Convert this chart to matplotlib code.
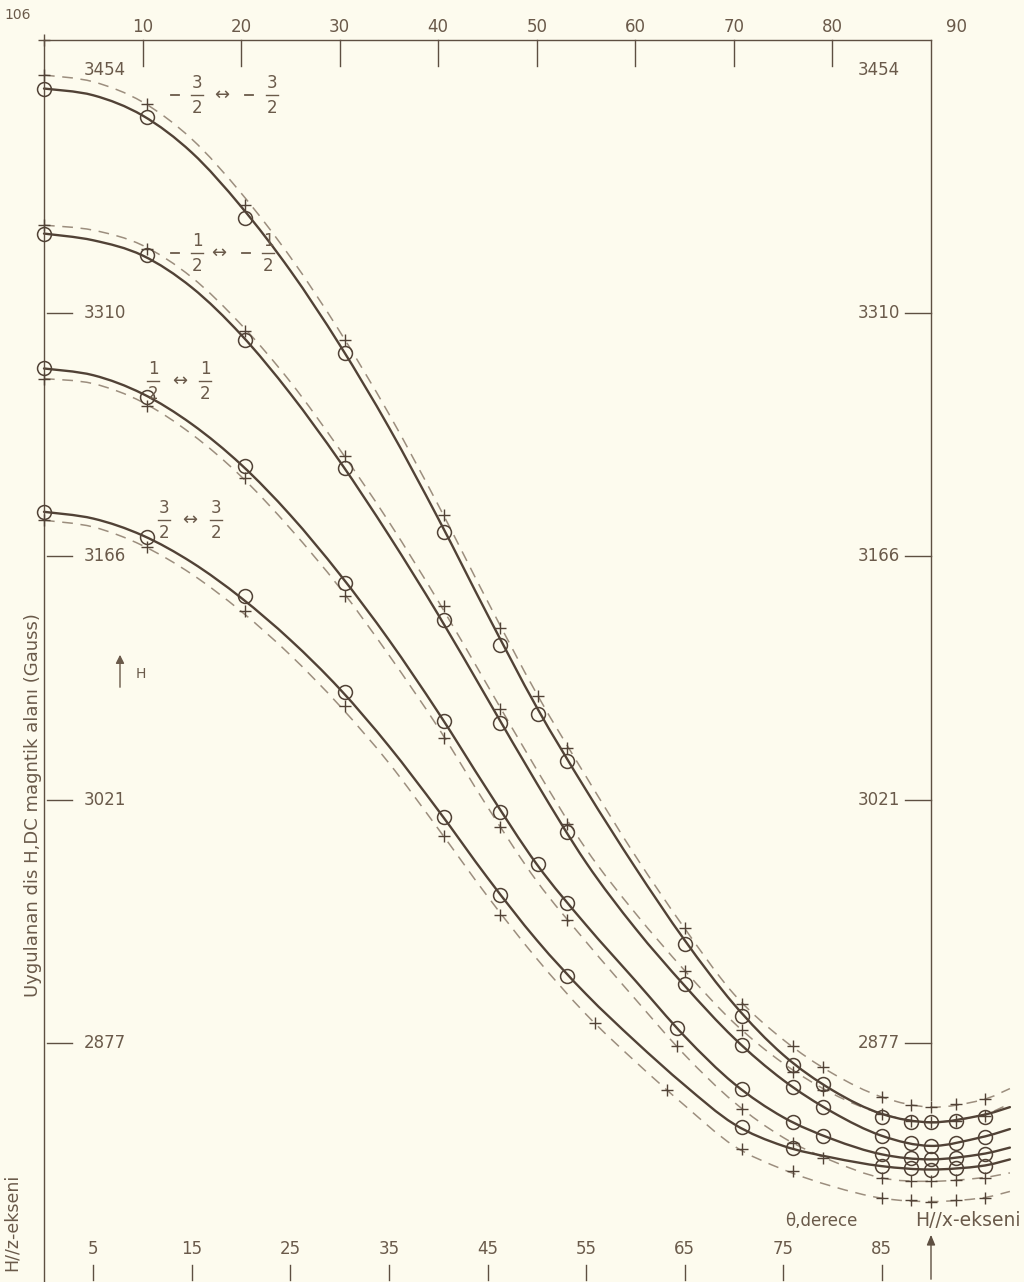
import matplotlib
matplotlib.use("Agg")
import matplotlib.pyplot as plt
from matplotlib.lines import Line2D
from matplotlib.path import Path
from matplotlib.patches import PathPatch, FancyArrowPatch

# ---------------- data ----------------
THETA = [0, 5, 10, 15, 20, 25, 30, 35, 40, 45, 50, 55, 60, 65, 70, 75, 80, 85, 90, 95, 98]

# fitted (solid) curves, Gauss
FIT_M32 = [3443, 3439, 3427, 3405, 3373, 3335, 3291, 3242, 3188, 3131, 3076, 3027, 2981, 2938, 2900, 2870, 2849, 2835, 2830, 2834, 2839]
FIT_M12 = [3357, 3353, 3344, 3325, 3297, 3262, 3222, 3178, 3131, 3081, 3031, 2984, 2945, 2911, 2880, 2855, 2836, 2822, 2816, 2821, 2826]
FIT_P12 = [3277, 3273, 3262, 3244, 3220, 3190, 3155, 3116, 3073, 3027, 2983, 2947, 2914, 2881, 2853, 2833, 2820, 2811, 2808, 2811, 2815]
FIT_P32 = [3192, 3188, 3178, 3162, 3141, 3116, 3087, 3053, 3015, 2975, 2938, 2906, 2878, 2852, 2829, 2816, 2809, 2804, 2802, 2804, 2808]

# dashed curves, Gauss
DASH_M32 = [3451, 3447, 3435, 3413, 3381, 3343, 3299, 3250, 3196, 3139, 3084, 3035, 2988, 2945, 2906, 2879, 2859, 2845, 2839, 2843, 2850]
DASH_M12 = [3362, 3359, 3350, 3331, 3303, 3269, 3229, 3186, 3139, 3089, 3039, 2992, 2954, 2920, 2889, 2865, 2847, 2835, 2830, 2834, 2841]
DASH_P12 = [3271, 3268, 3257, 3238, 3213, 3182, 3147, 3107, 3064, 3017, 2973, 2937, 2903, 2870, 2842, 2821, 2807, 2797, 2795, 2797, 2800]
DASH_P32 = [3187, 3183, 3172, 3155, 3133, 3107, 3077, 3043, 3004, 2964, 2927, 2894, 2866, 2840, 2816, 2802, 2792, 2785, 2783, 2785, 2789]

# circle-marked measurements (solid curves)
CIR_M32_T = [0, 10.5, 20.4, 30.5, 40.6, 46.3, 50.1, 53.1, 65, 70.8, 76, 79, 85, 88, 90, 92.5, 95.5]
CIR_M32_G = [3443, 3426, 3366, 3286, 3180, 3113, 3072, 3044, 2936, 2893, 2864, 2853, 2833, 2830, 2830, 2831, 2833]
CIR_M12_T = [0, 10.5, 20.4, 30.5, 40.6, 46.3, 53.1, 65, 70.8, 76, 79, 85, 88, 90, 92.5, 95.5]
CIR_M12_G = [3357, 3344, 3294, 3218, 3128, 3067, 3002, 2912, 2876, 2851, 2839, 2822, 2818, 2816, 2818, 2821]
CIR_P12_T = [0, 10.5, 20.4, 30.5, 40.6, 46.3, 50.1, 53.1, 64.2, 70.8, 76, 79, 85, 88, 90, 92.5, 95.5]
CIR_P12_G = [3277, 3260, 3219, 3150, 3068, 3014, 2983, 2960, 2886, 2850, 2830, 2822, 2811, 2809, 2808, 2809, 2811]
CIR_P32_T = [0, 10.5, 20.4, 30.5, 40.6, 46.3, 53.1, 70.8, 76, 85, 88, 90, 92.5, 95.5]
CIR_P32_G = [3192, 3177, 3142, 3085, 3011, 2965, 2917, 2827, 2815, 2804, 2803, 2802, 2803, 2804]

# cross-marked measurements (dashed curves)
CRS_M32_T = [0, 10.5, 20.4, 30.5, 40.6, 46.3, 50.1, 53.1, 65, 70.8, 76, 79, 85, 88, 90, 92.5, 95.5]
CRS_M32_G = [3451, 3434, 3374, 3294, 3190, 3123, 3083, 3052, 2945, 2900, 2875, 2863, 2845, 2840, 2839, 2841, 2844]
CRS_M12_T = [0, 10.5, 20.4, 30.5, 40.6, 46.3, 53.1, 65, 70.8, 76, 79, 85, 88, 90, 92.5, 95.5]
CRS_M12_G = [3362, 3348, 3299, 3225, 3136, 3075, 3007, 2920, 2885, 2860, 2849, 2835, 2831, 2830, 2831, 2834]
CRS_P12_T = [0, 10.5, 20.4, 30.5, 40.6, 46.3, 53.1, 64.2, 70.8, 76, 79, 85, 88, 90, 92.5, 95.5]
CRS_P12_G = [3271, 3255, 3212, 3142, 3058, 3005, 2950, 2875, 2838, 2818, 2809, 2797, 2795, 2795, 2796, 2797]
CRS_P32_T = [0, 10.5, 20.4, 30.5, 40.6, 46.3, 55.9, 63.2, 70.8, 76, 85, 88, 90, 92.5, 95.5]
CRS_P32_G = [3187, 3171, 3133, 3077, 3000, 2953, 2889, 2849, 2814, 2801, 2785, 2784, 2783, 2784, 2785]

X_TOP = [10, 20, 30, 40, 50, 60, 70, 80, 90]
X_BOTTOM = [5, 15, 25, 35, 45, 55, 65, 75, 85]
Y_TICKS = [3454, 3310, 3166, 3021, 2877]

YLABEL = "Uygulanan dis H,DC magntik alanı (Gauss)"

# ---------------- style ----------------
W, H = 1024, 1282
BG = "#fdfbee"
INK = "#514236"
DASHC = "#9c8e7e"
FRAME = "#5e4f41"
TXT = "#6a5a4a"
plt.rcParams["font.family"] = ["DejaVu Sans"]

fig = plt.figure(figsize=(W / 100, H / 100), dpi=100, facecolor=BG)
ax = fig.add_axes([0, 0, 1, 1])
ax.set_facecolor(BG)
ax.set_xlim(-4.464, 99.43)
ax.set_ylim(2735.3, 3495.5)
ax.axis("off")

def fx(x):
    return x / W

def fy(y):
    return 1 - y / H

XT = ax.get_xaxis_transform()   # x data, y axes fraction
YT = ax.get_yaxis_transform()   # x axes fraction, y data

# frame
ax.plot([0, 90], [fy(40), fy(40)], transform=XT, color=FRAME, lw=1.0)
ax.plot([0, 0], [fy(40), fy(1282)], transform=XT, color=FRAME, lw=1.0)
ax.plot([90, 90], [fy(40), fy(1100)], transform=XT, color=FRAME, lw=1.0)
ax.plot([0], [fy(40)], transform=XT, marker="+", color=FRAME, ms=9, mew=1.0)

# top ticks and labels
for t in X_TOP:
    if t < 90:
        ax.plot([t, t], [fy(40), fy(66)], transform=XT, color=FRAME, lw=1.0)
    dx = 2.6 if t == 90 else 0
    ax.text(t + dx, fy(27), str(t), transform=XT, ha="center", va="center",
            fontsize=12, color=TXT)

# bottom ticks and labels
for t in X_BOTTOM:
    ax.plot([t, t], [fy(1265), fy(1280)], transform=XT, color=FRAME, lw=1.0)
    ax.text(t, fy(1249), str(t), transform=XT, ha="center", va="center",
            fontsize=12, color=TXT)

# y ticks (left and right)
for v in Y_TICKS:
    if v != Y_TICKS[0]:
        ax.plot([fx(47), fx(72)], [v, v], transform=YT, color=FRAME, lw=1.0)
        ax.plot([fx(905), fx(931)], [v, v], transform=YT, color=FRAME, lw=1.0)
    ax.text(fx(84), v, str(v), transform=YT, ha="left", va="center",
            fontsize=12, color=TXT)
    ax.text(fx(900), v, str(v), transform=YT, ha="right", va="center",
            fontsize=12, color=TXT)

# smooth curve through the read points (Catmull-Rom as cubic Bezier)
def smooth_path(xs, ys):
    pts = list(zip(xs, ys))
    verts = [pts[0]]
    codes = [Path.MOVETO]
    n = len(pts)
    for i in range(n - 1):
        p0 = pts[i - 1] if i > 0 else pts[i]
        p1 = pts[i]
        p2 = pts[i + 1]
        p3 = pts[i + 2] if i + 2 < n else pts[i + 1]
        c1 = (p1[0] + (p2[0] - p0[0]) / 6.0, p1[1] + (p2[1] - p0[1]) / 6.0)
        c2 = (p2[0] - (p3[0] - p1[0]) / 6.0, p2[1] - (p3[1] - p1[1]) / 6.0)
        verts += [c1, c2, p2]
        codes += [Path.CURVE4] * 3
    return Path(verts, codes)

fits = [FIT_M32, FIT_M12, FIT_P12, FIT_P32]
dashes = [DASH_M32, DASH_M12, DASH_P12, DASH_P32]
circles = [(CIR_M32_T, CIR_M32_G), (CIR_M12_T, CIR_M12_G), (CIR_P12_T, CIR_P12_G), (CIR_P32_T, CIR_P32_G)]
crosses = [(CRS_M32_T, CRS_M32_G), (CRS_M12_T, CRS_M12_G), (CRS_P12_T, CRS_P12_G), (CRS_P32_T, CRS_P32_G)]

for d in dashes:
    ax.add_patch(PathPatch(smooth_path(THETA, d), fill=False, edgecolor=DASHC,
                           lw=1.1, linestyle=(0, (7, 5))))
for f in fits:
    ax.add_patch(PathPatch(smooth_path(THETA, f), fill=False, edgecolor=INK,
                           lw=1.7, capstyle="round"))
for t, g in circles:
    ax.plot(t, g, "o", mfc="none", mec=INK, ms=10, mew=1.1, ls="none")
for t, g in crosses:
    ax.plot(t, g, "+", color=INK, ms=9, mew=1.0, ls="none")

# transition labels (fractions)
def frac(xc, yc, num, den):
    fig.text(fx(xc), fy(yc - 12), num, ha="center", va="center", fontsize=12, color=TXT)
    fig.add_artist(Line2D([fx(xc - 6), fx(xc + 6)], [fy(yc), fy(yc)], color=TXT, lw=1.0))
    fig.text(fx(xc), fy(yc + 13), den, ha="center", va="center", fontsize=12, color=TXT)

def minus(xc, yc):
    fig.add_artist(Line2D([fx(xc - 4), fx(xc + 4)], [fy(yc), fy(yc)], color=TXT, lw=1.3))

def arrow(xc, yc):
    fig.text(fx(xc), fy(yc), "↔", ha="center", va="center", fontsize=13,
             color=TXT, family=["DejaVu Sans"])

minus(175, 95); frac(197, 95, "3", "2"); arrow(222, 95); minus(249, 95); frac(272, 95, "3", "2")
minus(175, 253); frac(197, 253, "1", "2"); arrow(219, 253); minus(246, 253); frac(268, 253, "1", "2")
frac(153, 381, "1", "2"); arrow(180, 381); frac(205, 381, "1", "2")
frac(164, 520, "3", "2"); arrow(190, 520); frac(216, 520, "3", "2")

# H arrow
fig.add_artist(FancyArrowPatch((fx(120), fy(690)), (fx(120), fy(652)),
               arrowstyle="-|>,head_length=5,head_width=2.5", color=TXT, lw=1.0,
               transform=fig.transFigure))
fig.text(fx(141), fy(674), "H", ha="center", va="center", fontsize=10, color=TXT)

# x-axis arrow at 90
fig.add_artist(FancyArrowPatch((fx(931), fy(1282)), (fx(931), fy(1232)),
               arrowstyle="-|>,head_length=6,head_width=2.5", color=FRAME, lw=1.0,
               transform=fig.transFigure))

# texts
fig.text(fx(18), fy(15), "106", ha="center", va="center", fontsize=10, color=TXT)
fig.text(fx(33), fy(805), YLABEL, rotation=90, ha="center", va="center",
         fontsize=13, color=TXT)
fig.text(fx(12), fy(1222), "H//z-ekseni", rotation=90, ha="center", va="center",
         fontsize=12.5, color=TXT)
fig.text(fx(785), fy(1221), "θ,derece", ha="left", va="center", fontsize=12, color=TXT)
fig.text(fx(1021), fy(1221), "H//x-ekseni", ha="right", va="center", fontsize=13.5, color=TXT)

fig.savefig("out.png", dpi=100, facecolor=BG)
